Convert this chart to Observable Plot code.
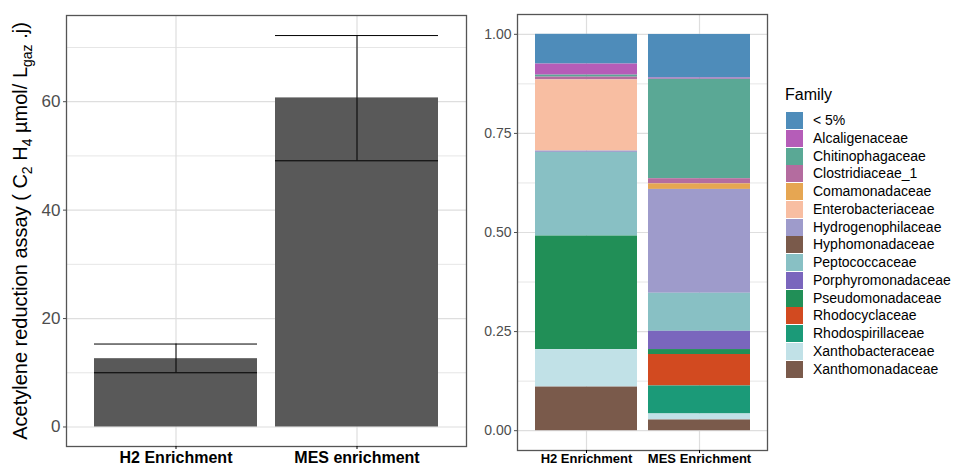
<!DOCTYPE html>
<html><head><meta charset="utf-8">
<script src="https://cdn.jsdelivr.net/npm/d3@7"></script>
<script src="https://cdn.jsdelivr.net/npm/@observablehq/plot@0.6"></script>
<style>
body{margin:0;background:#fff;font-family:"Liberation Sans",Arial,sans-serif;}
#wrap{position:relative;width:955px;height:465px;overflow:hidden;background:#fff;}
#left{position:absolute;left:0;top:0;}
#right{position:absolute;left:470px;top:0;}
#legend{position:absolute;left:0;top:0;width:955px;height:465px;pointer-events:none;}
.lg-title{position:absolute;left:785px;top:86px;font-size:16px;color:#000;}
.lg-key{position:absolute;left:786px;width:17px;height:17px;}
.lg-lab{position:absolute;left:813px;font-size:14px;color:#000;line-height:17px;white-space:nowrap;}
</style></head><body>
<div id="wrap"><div id="left"></div><div id="right"></div><div id="legend"></div></div>
<script>
// ---- Left panel data: acetylene reduction assay ----
const treatments = ["H2 Enrichment", "MES enrichment"];
const araMean = [12.6, 60.7];
const araLow = [10.0, 49.1];
const araHigh = [15.3, 72.2];
const araTicks = [0, 20, 40, 60];
const araMinor = [10, 30, 50, 70];

// ---- Right panel data: relative abundance by family ----
const samples = ["H2 Enrichment", "MES Enrichment"];
const families = ["< 5%", "Alcaligenaceae", "Chitinophagaceae", "Clostridiaceae_1", "Comamonadaceae",
  "Enterobacteriaceae", "Hydrogenophilaceae", "Hyphomonadaceae", "Peptococcaceae", "Porphyromonadaceae",
  "Pseudomonadaceae", "Rhodocyclaceae", "Rhodospirillaceae", "Xanthobacteraceae", "Xanthomonadaceae"];
const familyColors = ["#4E8CBA", "#B55DB8", "#5AA895", "#B46C9F", "#E6A652",
  "#F8BEA2", "#9E9BCB", "#7A5A4B", "#88C0C4", "#7A66BD",
  "#218F57", "#D24A20", "#1B9A78", "#C1E1E7", "#7A5A4B"];
const h2Abund = [0.075, 0.028, 0.005, 0.007, 0, 0.1795, 0.0035, 0, 0.211, 0, 0.2865, 0, 0, 0.0945, 0.110];
const mesAbund = [0.110, 0.003, 0.251, 0.013, 0.014, 0, 0.262, 0, 0.096, 0.046, 0.0125, 0.0794, 0.0706, 0.0152, 0.027];
const propTicks = [0, 0.25, 0.5, 0.75, 1];
const propMinor = [0.125, 0.375, 0.625, 0.875];

const font = "Liberation Sans, Arial, sans-serif";
const gridMajor = "#dedede", gridMinor = "#e6e6e6";

// ---- Left plot ----
const ara = treatments.map((t, i) => ({t, mean: araMean[i], lo: araLow[i], hi: araHigh[i]}));
const left = Plot.plot({
  width: 470, height: 465,
  marginLeft: 66, marginRight: 4, marginTop: 15, marginBottom: 19,
  style: {fontFamily: font, background: "transparent", overflow: "visible"},
  x: {domain: treatments, paddingInner: 0.1, paddingOuter: 0.15, axis: null},
  y: {domain: [-3.6, 75.9], axis: null},
  marks: [
    Plot.ruleY(araMinor, {stroke: gridMinor, strokeWidth: 1}),
    Plot.ruleY(araTicks, {stroke: gridMajor, strokeWidth: 1.2}),
    Plot.ruleX(treatments, {x: d => d, stroke: gridMajor, strokeWidth: 1.2}),
    Plot.barY(ara, {x: "t", y: "mean", fill: "#595959"}),
    Plot.ruleX(ara, {x: "t", y1: "lo", y2: "hi", stroke: "#000", strokeWidth: 1}),
    Plot.tickY(ara, {x: "t", y: "lo", stroke: "#000", strokeWidth: 1}),
    Plot.tickY(ara, {x: "t", y: "hi", stroke: "#000", strokeWidth: 1}),
    Plot.frame({stroke: "#555", strokeWidth: 1.3}),
    Plot.axisY(araTicks, {tickSize: 3, tickPadding: 3, fontSize: 17, color: "#4d4d4d", label: null}),
    Plot.axisX(treatments, {tickSize: 3, tickPadding: 2, fontSize: 16, fontWeight: "bold", color: "#000", label: null})
  ]
});
document.getElementById("left").appendChild(left);

// y-axis title with subscripts
const yt = d3.select(left).append("text")
  .attr("transform", "translate(27,231) rotate(-90)")
  .attr("text-anchor", "middle")
  .attr("font-family", font)
  .attr("font-size", 20)
  .attr("fill", "#000");
yt.append("tspan").text("Acetylene reduction assay ( C");
yt.append("tspan").attr("font-size", 14).attr("dy", 5).text("2");
yt.append("tspan").attr("dy", -5).text(" H");
yt.append("tspan").attr("font-size", 14).attr("dy", 5).text("4");
yt.append("tspan").attr("dy", -5).text(" µmol/ L");
yt.append("tspan").attr("font-size", 14).attr("dy", 5).text("gaz");
yt.append("tspan").attr("dy", -5).text(" .j)");

// ---- Right plot ----
const comp = [];
samples.forEach((s, si) => families.forEach((f, fi) => {
  comp.push({sample: s, family: f, value: [h2Abund, mesAbund][si][fi]});
}));
const right = Plot.plot({
  width: 300, height: 465,
  marginLeft: 47, marginRight: 3, marginTop: 14, marginBottom: 15,
  style: {fontFamily: font, background: "transparent", overflow: "visible"},
  x: {domain: samples, paddingInner: 0.1, paddingOuter: 0.15, axis: null},
  y: {domain: [-0.05, 1.05], axis: null},
  color: {domain: families, range: familyColors},
  marks: [
    Plot.ruleY(propMinor, {stroke: gridMinor, strokeWidth: 1}),
    Plot.ruleY(propTicks, {stroke: gridMajor, strokeWidth: 1.2}),
    Plot.ruleX(samples, {x: d => d, stroke: gridMajor, strokeWidth: 1.2}),
    Plot.barY(comp, {x: "sample", y: "value", fill: "family", z: "family", order: families.slice().reverse()}),
    Plot.frame({stroke: "#555", strokeWidth: 1.3}),
    Plot.axisY(propTicks, {tickSize: 3, tickPadding: 3, fontSize: 14, color: "#4d4d4d", tickFormat: d3.format(".2f"), label: null}),
    Plot.axisX(samples, {tickSize: 3, tickPadding: 0, fontSize: 13, fontWeight: "bold", color: "#000", label: null})
  ]
});
document.getElementById("right").appendChild(right);

// ---- Legend ----
const lg = d3.select("#legend");
lg.append("div").attr("class", "lg-title").text("Family");
families.forEach((f, i) => {
  const top = 112 + i * 17.76;
  lg.append("div").attr("class", "lg-key").style("top", top + "px").style("background", familyColors[i]);
  lg.append("div").attr("class", "lg-lab").style("top", top + "px").text(f);
});
</script>
</body></html>
